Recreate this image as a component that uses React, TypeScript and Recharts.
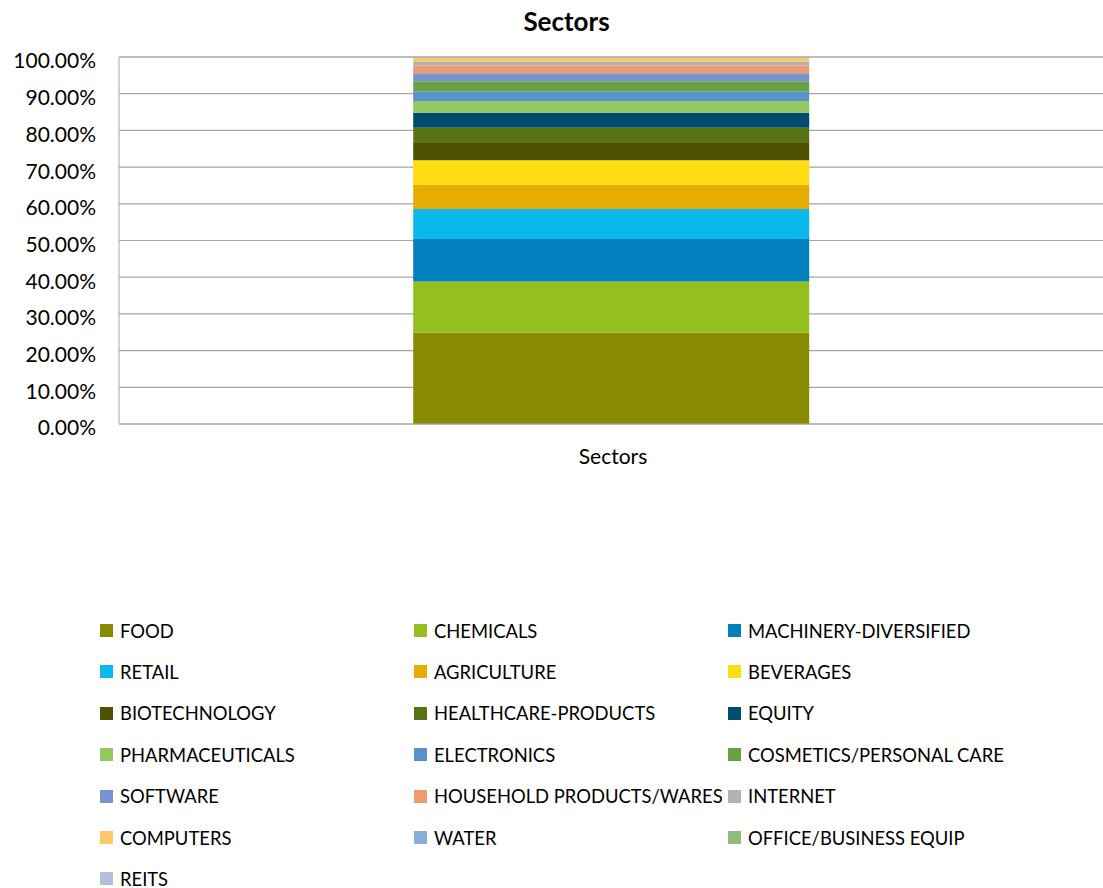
import React from "react";
import { BarChart, Bar, XAxis, YAxis, CartesianGrid } from "recharts";

const categories = ["Sectors"];
const seriesNames = [
  "FOOD",
  "CHEMICALS",
  "MACHINERY-DIVERSIFIED",
  "RETAIL",
  "AGRICULTURE",
  "BEVERAGES",
  "BIOTECHNOLOGY",
  "HEALTHCARE-PRODUCTS",
  "EQUITY",
  "PHARMACEUTICALS",
  "ELECTRONICS",
  "COSMETICS/PERSONAL CARE",
  "SOFTWARE",
  "HOUSEHOLD PRODUCTS/WARES",
  "INTERNET",
  "COMPUTERS",
  "WATER",
  "OFFICE/BUSINESS EQUIP",
  "REITS",
];
const seriesValues = [
  0.249, 0.139, 0.116, 0.082, 0.065, 0.068, 0.047, 0.041, 0.041, 0.032,
  0.027, 0.027, 0.022, 0.02, 0.012, 0.009, 0.001, 0.001, 0.001,
];
const seriesColors = [
  "#8A8C00",
  "#93C01F",
  "#0080BC",
  "#0BB8EB",
  "#E8AC00",
  "#FFDD12",
  "#4F5000",
  "#587314",
  "#004C6E",
  "#93C762",
  "#5593CA",
  "#69A042",
  "#7A93CE",
  "#F09A74",
  "#B3B3B3",
  "#FFC867",
  "#87AEDC",
  "#90BB7A",
  "#B3BEE0",
];
const yTicks = [0, 0.1, 0.2, 0.3, 0.4, 0.5, 0.6, 0.7, 0.8, 0.9, 1.0];
const title = "Sectors";

const data = categories.map((c) => {
  const row: Record<string, string | number> = { name: c };
  seriesNames.forEach((s, i) => {
    row[s] = seriesValues[i];
  });
  return row;
});

const FONT = "Lato, 'Open Sans', sans-serif";

export default function App() {
  return (
    <div
      style={{
        position: "absolute",
        left: 0,
        top: 0,
        width: 1103,
        height: 888,
        background: "#fff",
        fontFamily: FONT,
      }}
    >
      <div
        style={{
          position: "absolute",
          left: 0,
          width: 1133,
          top: 5,
          textAlign: "center",
          fontWeight: 700,
          fontSize: 26,
          lineHeight: "32px",
          color: "#000",
        }}
      >
        {title}
      </div>
      <BarChart
        width={1103}
        height={888}
        data={data}
        margin={{ top: 57, right: 0, left: 0, bottom: 424 }}
        barCategoryGap="29.9%"
      >
        <CartesianGrid
          horizontal={true}
          vertical={false}
          stroke="#A6A6A6"
          strokeWidth={1.2}
        />
        <XAxis
          dataKey="name"
          height={40}
          axisLine={{ stroke: "#A6A6A6" }}
          tickLine={false}
          tickSize={0}
          tickMargin={25}
          tick={{ fill: "#000", fontSize: 21, fontFamily: FONT, dx: 2 }}
        />
        <YAxis
          width={119}
          domain={[0, 1]}
          ticks={yTicks}
          interval={0}
          axisLine={{ stroke: "#A6A6A6" }}
          tickLine={false}
          tickSize={0}
          tickMargin={23}
          tick={{ fill: "#000", fontSize: 21, fontFamily: FONT, dy: 4 }}
          tickFormatter={(v: number) => (v * 100).toFixed(2) + "%"}
        />
        {seriesNames.map((s, i) => (
          <Bar
            key={s}
            dataKey={s}
            stackId="a"
            fill={seriesColors[i]}
            isAnimationActive={false}
          />
        ))}
      </BarChart>
      {seriesNames.map((s, i) => {
        const col = i % 3;
        const row = Math.floor(i / 3);
        return (
          <div
            key={s}
            style={{
              position: "absolute",
              left: 100 + col * 314,
              top: 621.5 + row * 41.4,
              height: 18,
              lineHeight: "18px",
              display: "flex",
              alignItems: "center",
              fontSize: 18.4,
              color: "#000",
              whiteSpace: "nowrap",
            }}
          >
            <span
              style={{
                display: "inline-block",
                width: 13,
                height: 13,
                background: seriesColors[i],
                marginRight: 7,
              }}
            />
            {s}
          </div>
        );
      })}
    </div>
  );
}
